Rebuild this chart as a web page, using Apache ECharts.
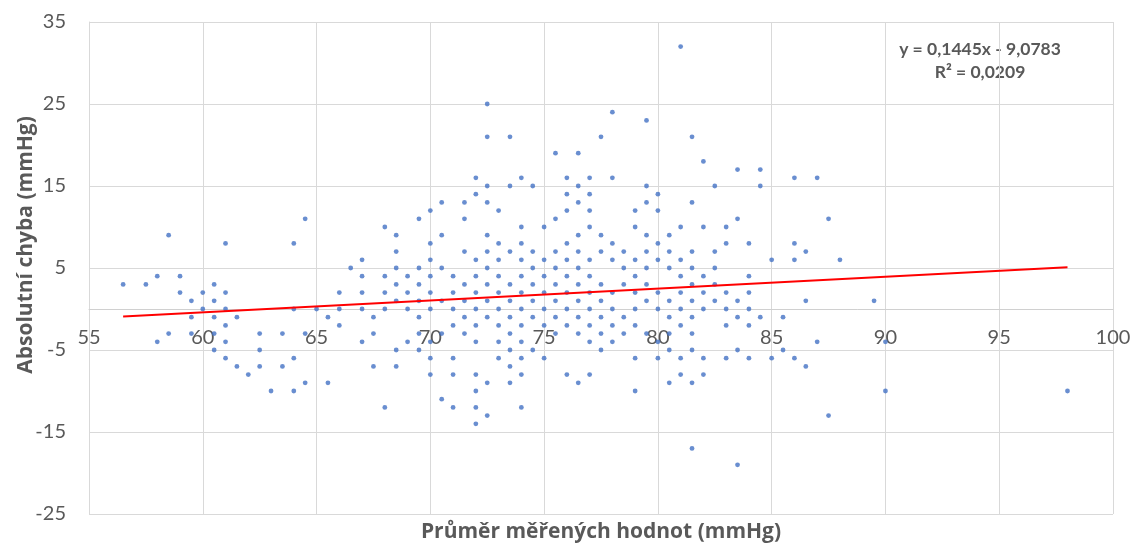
<!DOCTYPE html>
<html>
<head>
<meta charset="utf-8">
<script src="https://cdn.jsdelivr.net/npm/echarts@6/dist/echarts.min.js"></script>
<style>
  html, body { margin: 0; padding: 0; background: #ffffff; }
  #chart { width: 1130px; height: 545px; }
</style>
</head>
<body>
<div id="chart"></div>
<script>
// Absolute error levels (mmHg) and, for each level, the means of the paired readings
const errorLevels = [32, 25, 24, 23, 21, 19, 18, 17, 16, 15, 14, 13, 12, 11, 10, 9, 8, 7, 6, 5, 4, 3, 2, 1, 0,
  -1, -2, -3, -4, -5, -6, -7, -8, -9, -10, -11, -12, -13, -14, -17, -19];

const meansAtLevel = [
  [81],
  [72.5],
  [78],
  [79.5],
  [72.5, 73.5, 77.5, 81.5],
  [75.5, 76.5],
  [82],
  [83.5, 84.5],
  [72, 74, 76, 77, 78, 86, 87],
  [72.5, 73.5, 74.5, 76.5, 79.5, 82.5, 84.5],
  [72, 76, 77, 80],
  [70.5, 71.5, 72.5, 76.5, 79.5, 81.5],
  [70, 73, 76, 77, 79, 80],
  [64.5, 69.5, 71.5, 75.5, 83.5, 87.5],
  [68, 74, 75, 77, 79, 81, 82, 83],
  [58.5, 68.5, 70.5, 72.5, 76.5, 77.5, 79.5, 80.5],
  [61, 64, 70, 73, 74, 76, 78, 80, 83, 84, 86],
  [68.5, 71.5, 72.5, 73.5, 74.5, 75.5, 76.5, 77.5, 78.5, 79.5, 80.5, 81.5, 82.5, 86.5],
  [67, 70, 72, 73, 74, 75, 76, 77, 78, 79, 80, 81, 85, 86, 88],
  [66.5, 68.5, 69.5, 70.5, 72.5, 74.5, 75.5, 76.5, 78.5, 79.5, 80.5, 81.5, 82.5],
  [58, 59, 67, 68, 69, 70, 71, 72, 73, 74, 75, 76, 77, 79, 81, 82, 84],
  [56.5, 57.5, 60.5, 68.5, 69.5, 71.5, 72.5, 73.5, 74.5, 75.5, 76.5, 77.5, 78.5, 79.5, 81.5, 82.5],
  [59, 60, 61, 66, 67, 68, 69, 70, 71, 72, 73, 74, 75, 76, 77, 78, 79, 80, 81, 82, 83, 84],
  [59.5, 60.5, 68.5, 69.5, 70.5, 71.5, 72.5, 73.5, 74.5, 75.5, 76.5, 77.5, 79.5, 80.5, 81.5, 82.5, 83.5, 86.5, 89.5],
  [60, 61, 64, 65, 66, 67, 68, 69, 70, 71, 72, 73, 74, 75, 76, 77, 78, 79, 80, 81, 82, 83, 84],
  [59.5, 60.5, 61.5, 65.5, 67.5, 69.5, 71.5, 72.5, 73.5, 74.5, 75.5, 76.5, 77.5, 78.5, 80.5, 81.5, 83.5, 84.5, 85.5],
  [61, 66, 71, 72, 73, 74, 75, 76, 77, 78, 79, 81, 83, 84],
  [58.5, 59.5, 60.5, 62.5, 63.5, 64.5, 67.5, 69.5, 70.5, 71.5, 73.5, 75.5, 76.5, 77.5, 78.5, 79.5, 80.5, 81.5],
  [58, 61, 67, 69, 70, 72, 73, 74, 77, 78, 80, 87, 90],
  [60.5, 62.5, 68.5, 69.5, 73.5, 74.5, 77.5, 80.5, 81.5, 83.5, 85.5],
  [61, 64, 70, 71, 73, 74, 75, 79, 80, 81, 82, 83, 84, 85, 86],
  [61.5, 62.5, 63.5, 67.5, 68.5, 73.5, 86.5],
  [62, 70, 71, 72, 74, 76, 77, 81, 82],
  [64.5, 65.5, 72.5, 73.5, 76.5, 80.5, 81.5],
  [63, 64, 72, 79, 90, 98],
  [70.5],
  [68, 71, 72, 74],
  [72.5, 87.5],
  [72],
  [81.5],
  [83.5]
];

// Linear trend reported for the data
const trendSlope = 0.1445;
const trendIntercept = -9.0783;
const trendRSquared = 0.0209;
const trendSpan = [56.5, 98];

// Axis ranges: [min, max, step]
const xRange = [55, 100, 5];
const yRange = [-25, 35, 10];

const points = [];
errorLevels.forEach((err, i) => {
  meansAtLevel[i].forEach(m => points.push([m, err]));
});

const trendLine = trendSpan.map(x => [x, trendSlope * x + trendIntercept]);

const fmt = (v, d) => v.toFixed(d).replace('.', ',');
const equationText = 'y = ' + fmt(trendSlope, 4) + 'x ' + (trendIntercept < 0 ? '- ' : '+ ') +
  fmt(Math.abs(trendIntercept), 4) + '\nR² = ' + fmt(trendRSquared, 4);

const FONT = 'Lato, "Open Sans", "Liberation Sans", sans-serif';
const TITLE_FONT = '"Open Sans", Lato, "Liberation Sans", sans-serif';
const GRID = '#d9d9d9';
const TEXT = '#595959';

// Plot box; the horizontal axis sits on the zero error line
const gridBox = { left: 89, right: 17, top: 22, bottom: 31 };
const plotHeight = 545 - gridBox.top - gridBox.bottom;
const zeroOffset = -plotHeight * (0 - yRange[0]) / (yRange[1] - yRange[0]);

const chart = echarts.init(document.getElementById('chart'), null, { renderer: 'canvas' });
chart.setOption({
  animation: false,
  backgroundColor: '#ffffff',
  grid: Object.assign({ containLabel: false, outerBoundsMode: 'none' }, gridBox),
  xAxis: {
    type: 'value',
    position: 'bottom',
    offset: zeroOffset,
    min: xRange[0], max: xRange[1], interval: xRange[2],
    axisLine: { show: true, onZero: false, lineStyle: { color: '#d0d0d0', width: 1 } },
    axisTick: { show: false },
    axisLabel: { color: TEXT, fontSize: 20, fontFamily: FONT, margin: 19 },
    splitLine: { show: true, lineStyle: { color: GRID, width: 1 } },
    name: 'Průměr měřených hodnot (mmHg)',
    nameLocation: 'middle',
    nameGap: 213,
    nameMoveOverlap: false,
    nameTextStyle: { color: TEXT, fontSize: 21, fontWeight: 'bold', fontFamily: TITLE_FONT }
  },
  yAxis: {
    type: 'value',
    min: yRange[0], max: yRange[1], interval: yRange[2],
    axisLine: { show: true, onZero: false, lineStyle: { color: GRID, width: 1 } },
    axisTick: { show: false },
    axisLabel: { color: TEXT, fontSize: 20, fontFamily: FONT, margin: 23 },
    splitLine: { show: true, lineStyle: { color: GRID, width: 1 } },
    name: 'Absolutní chyba (mmHg)',
    nameLocation: 'middle',
    nameGap: 52,
    nameMoveOverlap: false,
    nameTextStyle: {
      color: TEXT, fontSize: 21, fontWeight: 'bold', fontFamily: TITLE_FONT,
      padding: [0, 0, 0, 46]
    }
  },
  graphic: [{
    type: 'text',
    x: 980, y: 38,
    style: {
      text: equationText,
      align: 'center',
      verticalAlign: 'top',
      fill: TEXT,
      font: 'bold 17.5px ' + FONT,
      lineHeight: 23
    }
  }],
  series: [
    {
      type: 'scatter',
      data: points,
      symbol: 'circle',
      symbolSize: 4.8,
      itemStyle: { color: '#4472C4' },
      z: 2
    },
    {
      type: 'line',
      data: trendLine,
      symbol: 'none',
      lineStyle: { color: '#FF0000', width: 2 },
      z: 3
    }
  ]
});
</script>
</body>
</html>
